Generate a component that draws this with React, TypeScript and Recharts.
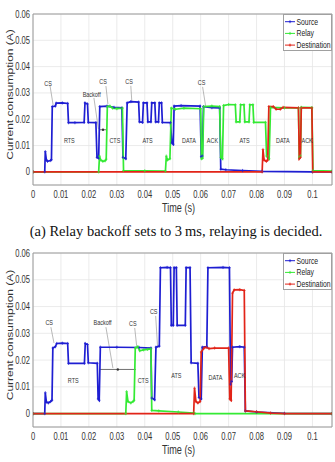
import {
  LineChart,
  Line,
  XAxis,
  YAxis,
  CartesianGrid,
  Legend,
  ReferenceArea,
  ReferenceLine,
  ReferenceDot,
} from "recharts";

const SANS = '"Liberation Sans", Arial, sans-serif';
const SX = 0.76; // the figure is squeezed sideways, text too
const BLUE = "#1e1ed2";
const GREEN = "#34ea34";
const RED = "#e22418";

const xTicks = [0, 0.01, 0.02, 0.03, 0.04, 0.05, 0.06, 0.07, 0.08, 0.09, 0.1];
const yTicks = [0, 0.01, 0.02, 0.03, 0.04, 0.05, 0.06];

// (a) relay backoff 3 ms -- [time s, current A]
const sourceA = [
  [0, 0], [0.0042, 0], [0.0044, 0.0077], [0.0048, 0.0045], [0.0052, 0.004], [0.0062, 0.0043],
  [0.0066, 0.0046], [0.0069, 0.0248], [0.008, 0.025], [0.0083, 0.0261], [0.0105, 0.0262],
  [0.0124, 0.026], [0.0127, 0.0187], [0.015, 0.0187], [0.0183, 0.0188], [0.0186, 0.0262],
  [0.0195, 0.0258], [0.0198, 0.0188], [0.0225, 0.0187], [0.0229, 0.0055], [0.0235, 0.0052],
  [0.0239, 0.0248], [0.0265, 0.025], [0.029, 0.0245], [0.0318, 0.0243], [0.0322, 0.0055],
  [0.0332, 0.005], [0.0337, 0.0262], [0.035, 0.0267], [0.0378, 0.0265], [0.0381, 0.019],
  [0.0392, 0.0188], [0.0395, 0.0262], [0.0408, 0.0262], [0.0411, 0.019], [0.0422, 0.019],
  [0.0425, 0.0262], [0.0436, 0.0262], [0.0439, 0.019], [0.0449, 0.019], [0.0452, 0.0262],
  [0.046, 0.0262], [0.0463, 0.0188], [0.0492, 0.0187], [0.0497, 0.011], [0.0502, 0.0105],
  [0.0505, 0.025], [0.053, 0.0252], [0.0598, 0.025], [0.0602, 0.0058], [0.0606, 0.006],
  [0.061, 0.0248], [0.064, 0.0244], [0.0668, 0.0243], [0.0672, 0.001], [0.069, 0.0008],
  [0.075, 0.0005], [0.082, 0.0002], [0.1, 0], [0.107, 0],
];
const relayA = [
  [0, 0], [0.0235, 0], [0.0238, 0.006], [0.0242, 0.0045], [0.025, 0.004], [0.0258, 0.0042],
  [0.0262, 0.0048], [0.0266, 0.0248], [0.0275, 0.025], [0.0285, 0.0242], [0.03, 0.024],
  [0.032, 0.0242], [0.0324, 0.0005], [0.04, 0.0004], [0.0474, 0.0003], [0.0477, 0.006],
  [0.0481, 0.0045], [0.049, 0.005], [0.0495, 0.0242], [0.051, 0.0238], [0.054, 0.0242],
  [0.06, 0.024], [0.0603, 0.005], [0.0607, 0.0052], [0.0611, 0.0248], [0.064, 0.025],
  [0.0668, 0.0248], [0.0672, 0.0055], [0.0678, 0.005], [0.0682, 0.0252], [0.07, 0.0256],
  [0.0724, 0.0255], [0.0727, 0.019], [0.074, 0.019], [0.0743, 0.0255], [0.0755, 0.0255],
  [0.0758, 0.019], [0.0773, 0.019], [0.0776, 0.0255], [0.0787, 0.0255], [0.079, 0.0188],
  [0.0832, 0.0188], [0.0836, 0.006], [0.0845, 0.005], [0.085, 0.0245], [0.09, 0.0243],
  [0.095, 0.0243], [0.0953, 0.0055], [0.0957, 0.006], [0.096, 0.0245], [0.0998, 0.0244],
  [0.1002, 0.0005], [0.107, 0.0003],
];
const destA = [
  [0, 0], [0.082, 0], [0.0823, 0.0085], [0.0827, 0.0045], [0.0835, 0.004], [0.084, 0.0045],
  [0.0844, 0.0248], [0.086, 0.0248], [0.087, 0.0238], [0.0885, 0.0238], [0.0895, 0.0245],
  [0.095, 0.0243], [0.0953, 0.005], [0.0957, 0.0055], [0.096, 0.0243], [0.0998, 0.0243],
  [0.1001, 0], [0.107, 0],
];

// (b) longer backoff
const sourceB = [
  [0, 0], [0.0042, 0], [0.0044, 0.0078], [0.0048, 0.0043], [0.0055, 0.004], [0.0063, 0.0045],
  [0.0068, 0.005], [0.0071, 0.0245], [0.008, 0.025], [0.0085, 0.0262], [0.0105, 0.0263],
  [0.0124, 0.0262], [0.0127, 0.0188], [0.0184, 0.0188], [0.0187, 0.0262], [0.0195, 0.0258],
  [0.0198, 0.019], [0.023, 0.0188], [0.0233, 0.0055], [0.0237, 0.005], [0.0241, 0.0248],
  [0.03, 0.0248], [0.038, 0.0247], [0.0422, 0.0245], [0.0425, 0.0058], [0.0435, 0.0052],
  [0.044, 0.0248], [0.0452, 0.0252], [0.0456, 0.0545], [0.048, 0.0546], [0.0492, 0.0545],
  [0.0495, 0.033], [0.0502, 0.033], [0.0505, 0.0545], [0.0513, 0.0545], [0.0516, 0.033],
  [0.0545, 0.033], [0.0548, 0.0545], [0.0562, 0.0545], [0.0566, 0.019], [0.059, 0.0188],
  [0.0594, 0.006], [0.0602, 0.0055], [0.0606, 0.0248], [0.0622, 0.025], [0.0626, 0.0545],
  [0.068, 0.0546], [0.0703, 0.0545], [0.0707, 0.011], [0.0711, 0.012], [0.0714, 0.0248],
  [0.074, 0.025], [0.0756, 0.0248], [0.076, 0.001], [0.08, 0.0006], [0.09, 0.0001], [0.107, 0],
];
const relayB = [
  [0, 0], [0.0332, 0], [0.0335, 0.0082], [0.034, 0.0045], [0.035, 0.004], [0.0358, 0.0045],
  [0.0362, 0.005], [0.0366, 0.0245], [0.0375, 0.025], [0.0382, 0.0235], [0.0395, 0.0238],
  [0.041, 0.024], [0.0422, 0.0242], [0.0425, 0.0012], [0.045, 0.001], [0.052, 0.0006],
  [0.0575, 0.0002], [0.058, 0], [0.107, 0],
];
const destB = [
  [0, 0], [0.0575, 0], [0.0578, 0.0095], [0.0583, 0.0045], [0.059, 0.004], [0.0598, 0.0045],
  [0.0602, 0.023], [0.0612, 0.0245], [0.062, 0.0248], [0.063, 0.0243], [0.065, 0.0245],
  [0.07, 0.0245], [0.0704, 0.0055], [0.0709, 0.005], [0.0714, 0.045], [0.072, 0.0462],
  [0.074, 0.0463], [0.0756, 0.046], [0.076, 0.001], [0.08, 0.0007], [0.085, 0.0002],
  [0.09, 0], [0.107, 0],
];

// annotations, data coords
const labelsA = [
  { t: 0.0054, v: 0.0338, text: "CS" },
  { t: 0.0251, v: 0.0343, text: "CS" },
  { t: 0.0344, v: 0.0343, text: "CS" },
  { t: 0.0603, v: 0.0339, text: "CS" },
  { t: 0.021, v: 0.0295, text: "Backoff" },
  { t: 0.013, v: 0.0119, text: "RTS" },
  { t: 0.0293, v: 0.0119, text: "CTS" },
  { t: 0.041, v: 0.0119, text: "ATS" },
  { t: 0.0558, v: 0.0119, text: "DATA" },
  { t: 0.0642, v: 0.0119, text: "ACK" },
  { t: 0.0757, v: 0.0119, text: "ATS" },
  { t: 0.0894, v: 0.0119, text: "DATA" },
  { t: 0.0981, v: 0.0119, text: "ACK" },
];
const leadersA = [
  [0.0061, 0.0327, 0.0072, 0.0254],
  [0.0261, 0.0326, 0.0268, 0.0258],
  [0.035, 0.0327, 0.0354, 0.0262],
  [0.0607, 0.0323, 0.0618, 0.0248],
  [0.0218, 0.0281, 0.0234, 0.0163],
];
const spanA = [0.0236, 0.0265, 0.016];

const labelsB = [
  { t: 0.0058, v: 0.034, text: "CS" },
  { t: 0.0249, v: 0.0343, text: "Backoff" },
  { t: 0.0357, v: 0.0337, text: "CS" },
  { t: 0.0432, v: 0.0384, text: "CS" },
  { t: 0.0144, v: 0.0126, text: "RTS" },
  { t: 0.0394, v: 0.0126, text: "CTS" },
  { t: 0.0513, v: 0.0144, text: "ATS" },
  { t: 0.0653, v: 0.0136, text: "DATA" },
  { t: 0.0739, v: 0.0144, text: "ACK" },
];
const leadersB = [
  [0.0064, 0.0323, 0.0075, 0.0264],
  [0.0261, 0.0323, 0.0286, 0.017],
  [0.0364, 0.032, 0.0371, 0.0252],
  [0.0439, 0.0365, 0.0446, 0.0245],
];
const spanB = [0.0239, 0.0368, 0.0165];

const toRows = (pts: number[][]) => pts.map(([t, v]) => ({ t, v }));

const series = [
  { name: "Source", color: BLUE },
  { name: "Relay", color: GREEN },
  { name: "Destination", color: RED },
];

const plus = (color: string) => (p: any) => (
  <path
    key={`m${p.index}`}
    d={`M${p.cx - 1.3},${p.cy}h2.6M${p.cx},${p.cy - 1.6}v3.2`}
    stroke={color}
    strokeWidth={0.7}
  />
);

const XTick = ({ x, y, payload }: any) => (
  <text transform={`translate(${x},${y}) scale(${SX},1)`} textAnchor="middle" dy="0.71em"
    fontSize={10} fill="#333" fontFamily={SANS}>
    {String(payload.value)}
  </text>
);

const YTick = ({ x, y, payload }: any) => (
  <text transform={`translate(${x},${y}) scale(${SX},1)`} textAnchor="end" dy="0.355em"
    fontSize={10} fill="#333" fontFamily={SANS}>
    {String(payload.value)}
  </text>
);

const YTitle = ({ viewBox }: any) => {
  const cx = 10;
  const cy = viewBox.y + viewBox.height / 2 - 5;
  return (
    <text transform={`translate(${cx},${cy}) rotate(-90) scale(1,${SX})`} textAnchor="middle"
      dominantBaseline="central" fontSize={12} fill="#333" fontFamily={SANS}>
      Current consumption (A)
    </text>
  );
};

const XTitle = ({ viewBox }: any) => (
  <text transform={`translate(${viewBox.x + viewBox.width / 2 - 4},${viewBox.y + 22}) scale(${SX},1)`}
    textAnchor="middle" dominantBaseline="central" fontSize={12} fill="#333" fontFamily={SANS}>
    Time (s)
  </text>
);

const Anno = ({ viewBox, text }: any) => (
  <text transform={`translate(${viewBox.x},${viewBox.y}) scale(${SX},1)`} textAnchor="middle"
    dominantBaseline="central" fontSize={7.2} fill="#333" fontFamily={SANS}>
    {text}
  </text>
);

const LegendBox = () => (
  <svg width={49} height={37} style={{ display: "block" }}>
    <rect x={0.5} y={0.5} width={48} height={36} fill="#fff" stroke="#a0a0a0" />
    {series.map((s, i) => {
      const y = 7.7 + i * 11.7;
      return (
        <g key={s.name}>
          <line x1={2} y1={y} x2={12} y2={y} stroke={s.color} strokeWidth={1} />
          <path d={`M7,${y - 1.5}v3M5.8,${y}h2.4`} stroke={s.color} strokeWidth={0.8} />
          <text transform={`translate(13.5,${y}) scale(0.72,1)`} dominantBaseline="central"
            fontSize={9.5} fill="#222" fontFamily={SANS}>
            {s.name}
          </text>
        </g>
      );
    })}
  </svg>
);

function CurrentChart({ height, bottom, data, labels, leaders, span }: any) {
  return (
    <LineChart width={335} height={height} margin={{ top: 14, right: 3, bottom, left: 0 }}>
      <CartesianGrid stroke="#e6e6e6" strokeWidth={0.8} />
      <XAxis dataKey="t" type="number" domain={[0, 0.107]} ticks={xTicks} interval={0}
        allowDataOverflow tickSize={0} tickMargin={6} axisLine={false} tick={<XTick />}
        height={30} label={<XTitle />} />
      <YAxis type="number" domain={[-0.005, 0.06]} ticks={yTicks} interval={0} allowDataOverflow
        width={33} tickSize={0} tickMargin={3} axisLine={false} tick={<YTick />}
        label={<YTitle />} />
      <ReferenceArea x1={0} x2={0.107} y1={-0.005} y2={0.06} fill="none" stroke="#9a9a9a" />
      {leaders.map((l: number[], i: number) => (
        <ReferenceLine key={`l${i}`} segment={[{ x: l[0], y: l[1] }, { x: l[2], y: l[3] }]}
          stroke="#8a8a8a" strokeWidth={0.6} />
      ))}
      <ReferenceLine segment={[{ x: span[0], y: span[2] }, { x: span[1], y: span[2] }]}
        stroke="#333" strokeWidth={0.7} />
      <ReferenceDot x={(span[0] + span[1]) / 2} y={span[2]} r={1.2} fill="#333" stroke="none" />
      {labels.map((a: any, i: number) => (
        <ReferenceDot key={`a${i}`} x={a.t} y={a.v} r={0} stroke="none"
          label={<Anno text={a.text} />} />
      ))}
      {series.map((s, i) => (
        <Line key={s.name} data={toRows(data[i])} dataKey="v" name={s.name} type="linear"
          stroke={s.color} strokeWidth={1.7} dot={plus(s.color)} isAnimationActive={false} />
      ))}
      <Legend layout="vertical" align="center" verticalAlign="middle"
        wrapperStyle={{ top: 14, right: 3, left: "auto", width: "auto" }}
        content={() => <LegendBox />} />
    </LineChart>
  );
}

export default function App() {
  return (
    <div style={{ position: "absolute", left: 0, top: 0, width: 335, height: 462,
      background: "#fff", overflow: "hidden" }}>
      <div style={{ position: "absolute", left: 0, top: 0 }}>
        <CurrentChart height={215} bottom={0} data={[sourceA, relayA, destA]}
          labels={labelsA} leaders={leadersA} span={spanA} />
      </div>
      <div style={{ position: "absolute", top: 222, left: 0, width: 335, paddingLeft: 17,
        boxSizing: "border-box", textAlign: "center", fontFamily: '"Liberation Serif", serif',
        fontSize: 14.5, color: "#111", lineHeight: "18px", whiteSpace: "nowrap" }}>
        (a) Relay backoff sets to 3{"\u2009"}ms, relaying is decided.
      </div>
      <div style={{ position: "absolute", left: 0, top: 239 }}>
        <CurrentChart height={223} bottom={5} data={[sourceB, relayB, destB]}
          labels={labelsB} leaders={leadersB} span={spanB} />
      </div>
    </div>
  );
}
